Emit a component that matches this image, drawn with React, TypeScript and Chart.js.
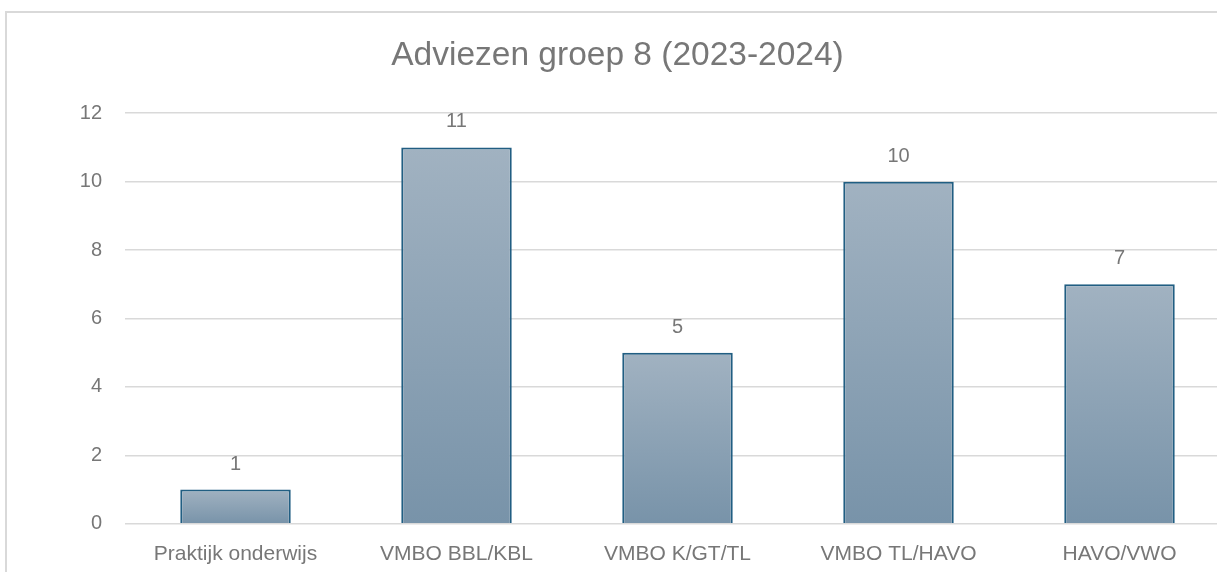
import React, { useEffect, useRef } from "react";
import { Chart, registerables } from "chart.js";

Chart.register(...registerables);

const chartTitle = "Adviezen groep 8 (2023-2024)";
const categories = ["Praktijk onderwijs", "VMBO BBL/KBL", "VMBO K/GT/TL", "VMBO TL/HAVO", "HAVO/VWO"];
const adviceCounts = [1, 11, 5, 10, 7];
const yMin = 0;
const yMax = 12;
const yStep = 2;

const FONT = "'Liberation Sans', Arial, sans-serif";
const TEXT = "#777777";
const GRID = "#d9d9d9";
const BAR_TOP = "#a1b2c1";
const BAR_BOTTOM = "#7893a9";
const BAR_BORDER = "#215e82";

const valueLabels = {
  id: "valueLabels",
  afterDatasetsDraw(chart: any) {
    const ctx = chart.ctx;
    ctx.save();
    ctx.font = `20px ${FONT}`;
    ctx.fillStyle = TEXT;
    ctx.textAlign = "center";
    ctx.textBaseline = "middle";
    chart.data.datasets.forEach((ds: any, di: number) => {
      const meta = chart.getDatasetMeta(di);
      meta.data.forEach((bar: any, i: number) => {
        ctx.fillText(String(ds.data[i]), bar.x, bar.y - 25.5);
      });
    });
    ctx.restore();
  },
};

export default function App() {
  const ref = useRef<HTMLCanvasElement>(null);
  useEffect(() => {
    const canvas = ref.current!;
    const chart = new Chart(canvas, {
      type: "bar",
      data: {
        labels: categories,
        datasets: [
          {
            data: adviceCounts,
            backgroundColor: (c: any) => {
              const ch = c.chart;
              if (!ch.chartArea || c.type !== "data" || !ch.scales.y) return "#8ca3b6";
              const y = ch.scales.y;
              const top = y.getPixelForValue(c.raw);
              const bottom = y.getPixelForValue(0);
              if (!isFinite(top) || !isFinite(bottom) || top === bottom) return "#8ca3b6";
              const g = ch.ctx.createLinearGradient(0, top, 0, bottom);
              g.addColorStop(0, BAR_TOP);
              g.addColorStop(1, BAR_BOTTOM);
              return g;
            },
            borderColor: BAR_BORDER,
            borderWidth: 2,
            categoryPercentage: 1,
            barPercentage: 0.5,
          },
        ],
      },
      options: {
        animation: false,
        responsive: false,
        devicePixelRatio: 1,
        events: [],
        layout: { padding: { left: 0, right: 0, top: 0, bottom: 0 } },
        plugins: {
          legend: { display: false },
          tooltip: { enabled: false },
          title: {
            display: true,
            text: chartTitle,
            color: TEXT,
            font: { family: FONT, size: 33.5, weight: "normal" },
            padding: { top: 25, bottom: 37 },
          },
        },
        scales: {
          x: {
            grid: { display: false },
            border: { display: false },
            ticks: {
              color: TEXT,
              font: { family: FONT, size: 21 },
              padding: 10,
              maxRotation: 0,
              autoSkip: false,
            },
          },
          y: {
            min: yMin,
            max: yMax,
            afterFit: (s: any) => {
              s.width = 120;
            },
            grid: { color: GRID, lineWidth: 1.5, drawTicks: false },
            border: { display: false },
            ticks: {
              stepSize: yStep,
              color: TEXT,
              font: { family: FONT, size: 20 },
              padding: 23,
            },
          },
        },
      },
      plugins: [valueLabels],
    });
    return () => chart.destroy();
  }, []);

  return (
    <div
      style={{
        position: "fixed",
        left: 0,
        top: 0,
        width: 1217,
        height: 572,
        overflow: "hidden",
        background: "#ffffff",
      }}
    >
      <div
        style={{
          position: "absolute",
          left: 5,
          top: 11,
          width: 1300,
          height: 700,
          border: `2px solid ${GRID}`,
          boxSizing: "border-box",
        }}
      />
      <canvas
        ref={ref}
        width={1225}
        height={566}
        style={{ position: "absolute", left: 5, top: 11, width: 1225, height: 566 }}
      />
    </div>
  );
}
